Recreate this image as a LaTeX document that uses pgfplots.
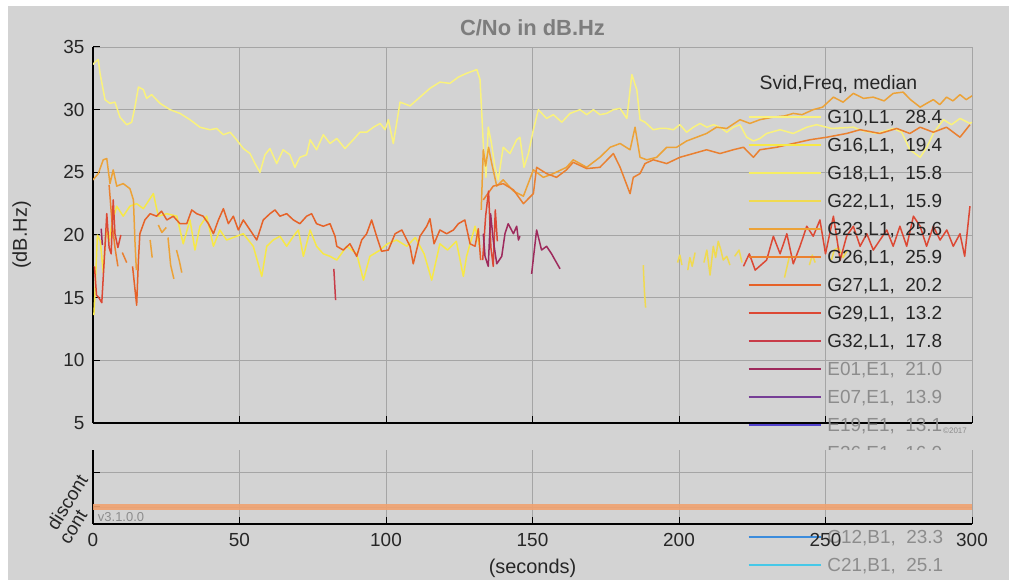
\documentclass[border=0pt]{standalone}
\usepackage{pgfplots}
\pgfplotsset{compat=1.18}
\usepackage{fontspec}
\setmainfont{Liberation Sans}
\definecolor{bggrey}{RGB}{211,211,211}
\definecolor{gridgrey}{RGB}{165,165,165}
\definecolor{txt}{RGB}{38,38,38}
\definecolor{ltxt}{RGB}{140,140,140}
\definecolor{ttl}{RGB}{125,125,125}
\definecolor{cG10}{RGB}{250,242,125}
\definecolor{cG16}{RGB}{247,232,70}
\definecolor{cG18}{RGB}{246,238,100}
\definecolor{cG22}{RGB}{240,218,80}
\definecolor{cG23}{RGB}{236,162,55}
\definecolor{cG26}{RGB}{234,128,48}
\definecolor{cG27}{RGB}{230,98,40}
\definecolor{cG29}{RGB}{220,72,52}
\definecolor{cG32}{RGB}{200,60,72}
\definecolor{cE01}{RGB}{158,42,92}
\definecolor{cE07}{RGB}{118,62,150}
\definecolor{cE19}{RGB}{82,66,205}
\definecolor{cE26}{RGB}{42,42,170}
\definecolor{cX1}{RGB}{40,70,190}
\definecolor{cX2}{RGB}{50,110,210}
\definecolor{cC12}{RGB}{60,140,220}
\definecolor{cC21}{RGB}{70,200,232}
\definecolor{contc}{RGB}{240,162,112}
\begin{document}
\begin{tikzpicture}
\fill[white] (0,0) rectangle (1009bp,580bp);
\fill[bggrey] (8bp,0) rectangle (1009bp,574bp);
\useasboundingbox (0,0) rectangle (1009bp,580bp);
\begin{axis}[
  at={(93bp,157bp)}, anchor=south west,
  scale only axis, width=879bp, height=376bp,
  xmin=0, xmax=300, ymin=5, ymax=35,
  axis x line*=bottom, axis y line*=left,
  axis line style={black, line width=1.1bp},
  xtick={0,50,...,300}, ytick={5,10,...,35},
  xticklabels={},
  grid=major, grid style={gridgrey, line width=0.7bp},
  major tick length=7bp, tick style={black, line width=1bp},
  tick label style={font=\fontsize{19}{19}\selectfont, text=txt},
  yticklabel style={xshift=-5bp},
  /pgf/number format/assume math mode=true,
  ylabel={(dB.Hz)},
  ylabel style={font=\fontsize{20}{20}\selectfont, text=txt, at={(axis description cs:-0.081,0.5)}, anchor=center},
  title={\textbf{C/No in dB.Hz}},
  title style={font=\fontsize{22}{22}\selectfont, text=ttl, at={(axis description cs:0.5,1.035)}, anchor=center},
  unbounded coords=jump,
  legend style={at={(axis description cs:0.745,0.831)}, anchor=north west, draw=none, fill=none,
    inner sep=0pt, outer sep=0pt, font=\fontsize{19}{19}\selectfont, text=txt,
    row sep=15bp, column sep=6bp, nodes={inner sep=0pt, text height=13bp, text depth=0bp},
    cells={anchor=west}},
  legend image code/.code={\draw[#1] (0bp,0bp) -- (72bp,0bp);},
  every axis plot/.append style={line width=1.5bp, line join=round},
]
\addlegendimage{cG10, line width=1.6bp}\addlegendentry{G10,L1,~~28.4}
\addlegendimage{cG16, line width=1.6bp}\addlegendentry{G16,L1,~~19.4}
\addlegendimage{cG18, line width=1.6bp}\addlegendentry{G18,L1,~~15.8}
\addlegendimage{cG22, line width=1.6bp}\addlegendentry{G22,L1,~~15.9}
\addlegendimage{cG23, line width=1.6bp}\addlegendentry{G23,L1,~~25.6}
\addlegendimage{cG26, line width=1.6bp}\addlegendentry{G26,L1,~~25.9}
\addlegendimage{cG27, line width=1.6bp}\addlegendentry{G27,L1,~~20.2}
\addlegendimage{cG29, line width=1.6bp}\addlegendentry{G29,L1,~~13.2}
\addlegendimage{cG32, line width=1.6bp}\addlegendentry{G32,L1,~~17.8}
\addlegendimage{cE01, line width=1.6bp}\addlegendentry{\textcolor{ltxt}{E01,E1,~~21.0}}
\addlegendimage{cE07, line width=1.6bp}\addlegendentry{\textcolor{ltxt}{E07,E1,~~13.9}}
\addlegendimage{cE19, line width=1.6bp}\addlegendentry{\textcolor{ltxt}{E19,E1,~~13.1}}
\addlegendimage{cE26, line width=1.6bp}\addlegendentry{\textcolor{ltxt}{E26,E1,~~16.0}}
\addlegendimage{cX1, line width=1.6bp}\addlegendentry{\textcolor{ltxt}{E30,E1,~~15.0}}
\addlegendimage{cX2, line width=1.6bp}\addlegendentry{\textcolor{ltxt}{C11,B1,~~20.0}}
\addlegendimage{cC12, line width=1.6bp}\addlegendentry{\textcolor{ltxt}{C12,B1,~~23.3}}
\addlegendimage{cC21, line width=1.6bp}\addlegendentry{\textcolor{ltxt}{C21,B1,~~25.1}}
% G10
\addplot[cG10, forget plot] coordinates {(0,33.6) (0.7,33.8) (1.8,34.0) (2.4,32.9) (4.1,30.8) (5.8,30.5) (7.5,30.6) (9.2,29.4) (11.5,28.8) (13.2,29.0) (14.3,30.2) (15.5,31.8) (17.2,31.6) (18.3,30.9) (20.0,31.2) (22.9,30.5) (26.3,30.0) (29.7,29.7) (33.1,29.2) (36.5,28.6) (39.9,28.4) (42.2,28.5) (44.5,28.0) (46.8,28.2) (49.0,27.6) (51.3,26.9) (53.6,26.5) (55.3,25.7) (57.0,25.0) (58.7,26.4) (60.4,26.9) (62.7,25.7) (64.9,26.8) (67.2,26.4) (68.9,25.4) (70.6,26.2) (72.9,26.4) (74.1,27.6) (76.3,26.8) (78.6,28.0) (80.9,27.3) (83.2,27.7) (86.0,26.9) (88.8,27.6) (91.1,28.2) (93.4,28.2) (95.7,28.6) (98.0,28.9) (99.7,28.4) (100.8,29.2) (102.5,27.3) (104.8,30.6) (108.2,30.3) (111.6,31.0) (115.0,31.7) (118.4,32.2) (121.8,32.1) (124.7,32.6) (127.5,32.9) (131.0,33.2) (132.1,32.4) (133.2,27.3) (134.1,24.6) (134.9,28.6) (136.0,27.3) (137.2,25.4) (138.3,24.4) (140.0,27.0) (142.3,26.5) (144.6,27.6) (145.7,27.8) (147.1,25.4) (148.6,26.5) (150.3,28.4) (152.0,30.0) (154.8,29.3) (157.1,29.6) (160.0,29.0) (162.8,29.7) (166.2,30.0) (168.5,29.6) (170.8,30.0) (173.0,29.6) (175.3,29.7) (177.6,30.0) (179.9,30.1) (182.2,29.3) (183.9,32.8) (185.6,31.6) (186.7,29.2) (188.4,29.0) (191.2,28.4) (193.5,28.5) (195.8,28.5) (198.1,28.4) (200.3,28.8) (202.6,28.2) (204.9,28.6) (207.2,28.9) (209.5,28.6) (211.8,28.8) (214.0,28.6) (216.3,28.2) (218.5,28.6) (220.8,28.8) (223.1,27.8) (225.4,27.5) (227.6,27.7) (229.9,28.1) (234.5,28.4) (239.0,28.1) (243.6,28.6) (247.0,28.8) (252,28.5) (259.5,28.6) (263,28.3) (267.5,28.1) (273.1,28.5) (276,28.2) (278.8,26.8) (282.3,26.2) (284.6,27.0) (287,28.2) (290.3,29.2) (293,28.8) (295.9,29.3) (299.3,28.9) (300,29.0)};
% G16
\addplot[cG16, forget plot] coordinates {(0.3,13.6) (0.8,16) (1.5,20) (2.5,19.5) (3.5,17) (4.5,20.5) (5.5,19.5) (6.5,21) (8.1,22.3) (10.3,21.5) (12.6,22.3) (14.9,22.5) (17.2,22.1) (20.6,23.3) (22.3,21.5) (25.2,21.7) (28.6,21.5) (30.8,19.3) (33.1,21.2) (34.8,18.8) (36.5,20.7) (38.8,21.5) (41.1,19.1) (43.3,20.4) (45.6,19.6) (49.0,19.9) (51.3,20.1) (54.7,19.1) (57.6,16.7) (59.3,19.1) (61.5,19.6) (63.8,19.9) (66.1,19.1) (68.4,19.9) (70.1,20.4) (71.8,18.3) (74.1,20.4) (76.3,19.1) (78.6,18.5) (80.9,18.3) (83.2,18.0) (86.6,19.1) (90,18.5) (92.3,16.4) (94.5,18.3) (98,18.8) (100.5,19.3) (103.6,19.6) (107.1,19.1) (110,19.8) (113,18.5) (115.6,16.4) (118.4,19.3) (121,18.8) (124,19.5) (126.4,16.7) (127.5,18.3) (130.4,20.7) (132,19)};
% G22 late yellow pieces
\addplot[cG22, forget plot] coordinates {(187.8,17.6) (188.2,15.5) (188.6,14.2) (189,nan) (199.5,17.8) (200.3,18.4) (201,17.6) (202,nan) (203,17.2) (203.7,18.2) (204.5,17.5) (205.5,18.6) (207,nan) (208.5,17.8) (209.5,18.8) (210.6,16.8) (211.7,19.1) (212.5,18.2) (213.4,19.5) (214.3,18.8) (215.1,18.0) (216.3,18.3) (217.4,17.6) (218,nan) (219,18.3) (220.5,18.8) (221.5,17.8) (222,nan) (236,16.6) (236.8,17.4) (237.6,18.2) (238,nan) (244.5,17.6) (245.5,18.4) (246.5,17.8) (247,nan) (252,18) (253,18.8) (254.5,19) (256,18.2) (257.5,18.8)};
% G23
\addplot[cG23, forget plot] coordinates {(0,24.4) (1.8,24.9) (3.5,26.0) (4.7,26.1) (5.8,24.1) (6.9,25.2) (8.1,23.9) (10.3,24.1) (12.6,23.7) (13.8,22.8) (14.3,19.6) (14.8,17.2) (15,nan) (19.5,19.6) (20.2,18.2) (21,nan) (22.3,20.8) (23.5,20.2) (25,20.6) (25.3,nan) (25.6,19.8) (26.5,17.6) (27.6,16.5) (28,nan) (28.5,18.8) (29.5,17.9) (30.3,17.0) (31,nan) (132.5,22) (133.2,26.8) (134,25.5) (135,27) (136,25.8) (137.8,23.9) (140,24.4) (143.5,23.5) (146.9,23.1) (150.3,25.2) (153.7,24.6) (157.1,24.9) (161.6,25.4) (163.9,26.0) (168.5,25.4) (173,26.2) (176.5,27.0) (179.9,27.3) (183.3,26.8) (185,28.6) (186.7,26.2) (189,26.0) (192.4,26.2) (195.8,27.0) (199.2,27.0) (202.6,27.5) (206,27.8) (209.4,28.1) (212.8,28.6) (216.3,28.5) (220.8,29.2) (224.2,28.9) (227.6,29.2) (232,29.4) (236,29.5) (239,29.7) (242,29.6) (245.8,30.0) (249,30.2) (252.7,31.0) (256,30.6) (259.5,31.3) (263,30.9) (266.3,31.0) (270,30.7) (273.1,31.3) (276.5,31.4) (279,30.8) (282.3,30.2) (284.5,30.5) (286.8,30.8) (289,30.4) (291.3,31.0) (293.5,30.7) (295.9,31.2) (298,30.8) (300,31.1)};
% G26
\addplot[cG26, forget plot] coordinates {(5.5,24) (6.5,21) (7.5,19) (8.5,17.5) (9,nan) (10,18.6) (11.5,17.8) (12,nan) (133.2,22.8) (136.6,23.9) (140,24.1) (143.5,23.6) (146.9,22.5) (150.3,23.3) (151.4,25.4) (154.8,24.9) (158.2,24.6) (161.6,25.2) (163.9,25.8) (168.5,25.3) (173,25.4) (177.6,26.5) (179.9,25.4) (183.3,23.3) (184.4,24.6) (186.7,24.9) (188.4,25.7) (191.2,26.0) (195.8,25.7) (200.3,26.2) (204.9,26.5) (209.4,26.8) (214,26.5) (218.5,26.8) (222,27.0) (225.4,26.2) (227.6,26.8) (233.3,27.0) (239,27.3) (244.7,27.6) (250.4,27.8) (257.2,28.1) (261.8,28.4) (268.6,28.1) (274.3,28.5) (278.8,28.1) (282.3,28.6) (286.8,28.2) (291.3,28.6) (295.9,27.8) (299.3,28.8)};
% G27
\addplot[cG27, forget plot] coordinates {(13.5,17.5) (14.9,14.4) (15.5,18) (16.0,20.1) (17.7,21.2) (19.5,21.7) (21.7,21.5) (23.4,21.9) (25.2,21.2) (27.4,21.5) (29.7,20.9) (32.0,20.9) (33.7,22.0) (35.4,21.7) (37.6,21.5) (39.4,20.9) (41.1,20.1) (42.8,21.2) (44.5,22.1) (46.2,20.9) (47.9,21.5) (49.6,20.4) (51.3,21.2) (53.6,20.4) (55.9,19.6) (58.1,21.2) (60.4,21.7) (62.1,22.0) (63.8,21.5) (66.1,21.7) (68.4,21.2) (70.6,20.9) (72.9,21.5) (74.6,21.7) (76.3,20.9) (78.6,20.7) (80.9,20.9) (82.6,19.9) (83.2,19.1) (85.4,18.8) (87.7,19.3) (90,18.3) (91.7,19.6) (93.4,20.1) (95.1,21.2) (96.8,19.9) (98.5,18.7) (100.8,18.8) (103.1,20.1) (105.4,20.4) (108.2,19.1) (109.3,17.7) (111.6,19.9) (113.9,20.7) (115,21.3) (116.4,19.3) (118.4,20.4) (120.7,20.1) (123,20.4) (124.7,20.9) (126.9,21.2) (128.7,19.3) (130.4,19.1) (131.5,20.5) (132.3,18)};
% G29
\addplot[cG29, forget plot] coordinates {(0.5,17.5) (1.2,15.2) (2,15) (3,14.6) (4.1,19.1) (4.7,21.7) (5.5,19) (6.2,18.5) (6.9,22.8) (7.5,20.1) (8.5,19) (9.5,20) (10,nan) (133,18) (134,21.5) (135,23.5) (135.8,19) (136.6,17.5) (137.3,22) (138,19.5) (139,nan) (222,17.5) (224,18.5) (226,17.2) (229.9,18.0) (232.2,19.9) (234.5,18.5) (236.8,20.1) (239,17.7) (241.3,19.1) (243.6,20.7) (245.8,19.9) (248.1,21.2) (250,18.5) (252.7,21.5) (255,18.0) (257.2,19.9) (259.5,20.7) (261.8,19.1) (264.1,20.1) (266.3,18.8) (268.6,19.6) (270.9,20.4) (273.1,19.1) (275.4,20.7) (277.7,19.1) (280,21.5) (282.3,20.7) (284.5,19.1) (286.8,20.7) (289.1,19.6) (291.4,20.4) (293.6,19.1) (295.9,20.1) (297.5,18.3) (299.3,22.3)};
% G32
\addplot[cG32, forget plot] coordinates {(82.2,17.3) (82.8,14.8)};
% E01
\addplot[cE01, forget plot] coordinates {(2.8,20.5) (3.2,19.2) (4,nan) (133.2,20.1) (133.8,18.3) (134.9,17.5) (135.7,21.7) (136.6,19.6) (137.8,17.7) (139.5,18.3) (140.6,20.1) (141.7,20.9) (143.5,20.1) (144.6,20.7) (145.2,19.6) (145.7,19.9) (147,nan) (149.7,16.9) (151.4,20.4) (153.1,18.8) (154.8,19.1) (156.5,18.5) (157.7,18.0) (159.4,17.3)};
\node[font=\fontsize{19.5}{19.5}\selectfont, text=txt, anchor=base] at (axis description cs:0.848,0.886) {Svid,Freq, median};
\end{axis}
\begin{axis}[
  at={(93bp,56bp)}, anchor=south west,
  scale only axis, width=879bp, height=74bp,
  xmin=0, xmax=300, ymin=-0.486, ymax=1.629,
  axis x line*=bottom, axis y line*=left,
  axis line style={black, line width=1.1bp},
  axis background/.style={fill=bggrey},
  xtick={0,50,...,300}, ytick={0,1}, yticklabels={cont,discont},
  grid=major, grid style={gridgrey, line width=0.7bp},
  major tick length=7bp, tick style={black, line width=1bp},
  tick label style={font=\fontsize{19}{19}\selectfont, text=txt},
  xticklabel style={yshift=-6bp},
  /pgf/number format/assume math mode=true,
  yticklabel style={rotate=58, anchor=east, xshift=-6bp, yshift=6bp},
  xlabel={(seconds)},
  xlabel style={font=\fontsize{20}{20}\selectfont, text=txt, at={(axis description cs:0.5,-0.6)}, anchor=center},
]
\addplot[contc, line width=6bp, opacity=0.9] coordinates {(0,0) (300,0)};
\node[font=\fontsize{13}{13}\selectfont, text=ltxt, anchor=west] at (axis cs:0.5,-0.29) {v3.1.0.0};
\end{axis}
\node[font=\fontsize{8}{8}\selectfont, text=ltxt] at (955bp,149bp) {©2017};
\end{tikzpicture}
\end{document}
